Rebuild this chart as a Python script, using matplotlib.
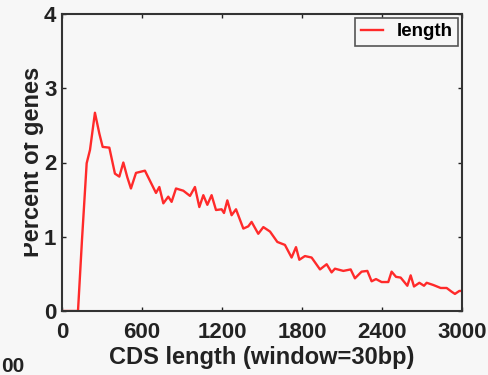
import matplotlib
matplotlib.use("Agg")
import matplotlib.pyplot as plt
from matplotlib.transforms import Bbox, TransformedBbox

# Data (CDS length in bp, percent of genes)
cds_length = [0, 30, 60, 90, 120, 150, 185, 210, 247, 280, 305, 355, 397, 430,
              460, 490, 517, 555, 622, 705, 730, 760, 797, 822, 855, 910, 960,
              997, 1030, 1060, 1090, 1122, 1155, 1197, 1215, 1240, 1272, 1305,
              1360, 1397, 1422, 1472, 1510, 1560, 1615, 1672, 1722, 1755, 1780,
              1822, 1872, 1935, 1985, 2022, 2047, 2110, 2165, 2197, 2247, 2290,
              2322, 2355, 2397, 2447, 2472, 2505, 2540, 2590, 2615, 2640, 2680,
              2715, 2735, 2785, 2840, 2885, 2922, 2947, 2980, 3000]
percent_genes = [0, 0, 0, 0, 0, 0.96, 1.99, 2.17, 2.67, 2.39, 2.21, 2.20, 1.85, 1.81,
                 2.00, 1.80, 1.65, 1.86, 1.89, 1.59, 1.67, 1.45, 1.54, 1.47, 1.65, 1.62, 1.55,
                 1.67, 1.40, 1.56, 1.43, 1.56, 1.36, 1.37, 1.32, 1.49, 1.29, 1.37,
                 1.11, 1.14, 1.20, 1.04, 1.13, 1.07, 0.93, 0.89, 0.72, 0.86, 0.69,
                 0.74, 0.72, 0.56, 0.63, 0.52, 0.57, 0.54, 0.56, 0.44, 0.53, 0.54,
                 0.40, 0.43, 0.39, 0.39, 0.53, 0.46, 0.45, 0.34, 0.48, 0.33, 0.38,
                 0.34, 0.38, 0.35, 0.31, 0.31, 0.26, 0.23, 0.27, 0.27]
x_ticks = [0, 600, 1200, 1800, 2400, 3000]
y_ticks = [0, 1, 2, 3, 4]
series_name = "length"

bg = "#f7f7f7"
plt.rcParams['font.family'] = ['Liberation Sans', 'DejaVu Sans']
plt.rcParams['font.weight'] = 'bold'

fig = plt.figure(figsize=(4.89, 3.75), dpi=100, facecolor=bg)
ax = fig.add_axes([62/489, 1 - 311/375, 400/489, 297/375], facecolor=bg)

ax.plot(cds_length, percent_genes, color="#ff2a2a", lw=1.7, label=series_name)

ax.set_xlim(0, 3000)
ax.set_ylim(0, 4)
ax.set_xticks(x_ticks)
ax.set_yticks(y_ticks)
ax.tick_params(direction='in', length=3, width=1, top=True, right=True,
               labelsize=16, colors='#222222')
ax.tick_params(axis='x', pad=8)
ax.tick_params(axis='y', pad=4)
for lab in ax.get_xticklabels() + ax.get_yticklabels():
    lab.set_fontweight('bold')
for s in ax.spines.values():
    s.set_linewidth(1.5)
    s.set_color('#333333')

ax.set_xlabel("CDS length (window=30bp)", fontsize=17, fontweight='bold',
              color='#222222', labelpad=2)

yl = fig.text(33/489, 1 - 162/375, "Percent of genes", rotation=90,
              ha='center', va='center', fontsize=17, fontweight='bold',
              color='#222222')
yl.set_clip_box(TransformedBbox(Bbox([[24/489, 0], [1, 1]]), fig.transFigure))
yl.set_clip_on(True)

fig.text(1/489, 1 - 366/375, "00", ha='left', va='center', fontsize=15,
         fontweight='bold', color='#222222')

leg = ax.legend(loc='upper right', fontsize=13.5, frameon=True, fancybox=False,
                borderaxespad=0.2, handlelength=1.2, handletextpad=0.7,
                borderpad=0.3)
leg.get_frame().set_edgecolor('#555555')
leg.get_frame().set_linewidth(1.2)
leg.get_frame().set_facecolor(bg)
leg.get_frame().set_alpha(1)
for t in leg.get_texts():
    t.set_fontweight('bold')

fig.savefig("out.png", dpi=100, facecolor=bg)
